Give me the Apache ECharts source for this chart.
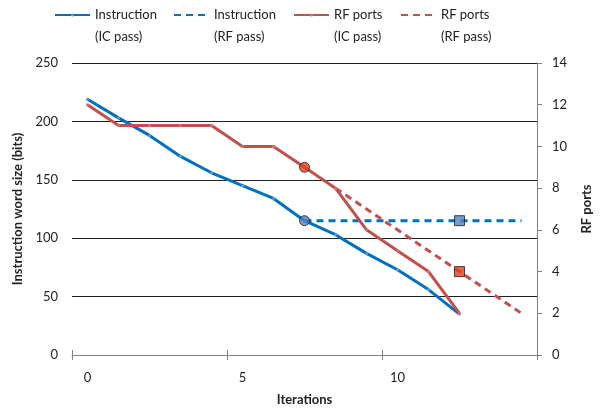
<!DOCTYPE html>
<html>
<head>
<meta charset="utf-8">
<script src="https://cdn.jsdelivr.net/npm/echarts@6/dist/echarts.min.js"></script>
<style>
  html, body { margin: 0; padding: 0; background: #fff; }
  #chart { width: 601px; height: 411px; }
</style>
</head>
<body>
<div id="chart"></div>
<script>
// iterations 0..14
const iterations = ['0','1','2','3','4','5','6','7','8','9','10','11','12','13','14']
// instruction word size (bits), left axis
const instrIC = [219, 203, 188, 170, 156, 145, 134, 115, 103, 87, 73, 56, 35, '-', '-']
const instrRF = ['-', '-', '-', '-', '-', '-', '-', 115, 115, 115, 115, 115, 115, 115, 115]
// RF ports, right axis
const portsIC = [12, 11, 11, 11, 11, 10, 10, 9, 8, 6, 5, 4, 2, '-', '-']
const portsRF = ['-', '-', '-', '-', '-', '-', '-', '-', 8, 7, 6, 5, 4, 3, 2]
// highlighted points (iteration index)
const icPick = 7
const rfPick = 12

const blue = '#0070c0'
const red = '#c0504d'
const font = 'Lato'

const chart = echarts.init(document.getElementById('chart'))

function legendAt(name, left, dashed) {
  return {
    data: [name],
    left: left,
    top: -23,
    itemWidth: 35,
    itemHeight: 4,
    itemGap: 0,
    itemStyle: dashed ? { opacity: 0 } : {},
    textStyle: { fontFamily: font, fontSize: 13, color: '#222', lineHeight: 22 },
    formatter: n => {
      const i = n.indexOf(' (')
      return '\u00a0\n' + n.slice(0, i) + '\n' + n.slice(i + 1)
    }
  }
}

const option = {
  animation: false,
  textStyle: { fontFamily: font },
  legend: [
    legendAt('Instruction (IC pass)', 49, false),
    legendAt('Instruction (RF pass)', 168, true),
    legendAt('RF ports (IC pass)', 288, false),
    legendAt('RF ports (RF pass)', 395, true)
  ],
  grid: { left: 72, right: 60, top: 63, bottom: 56 },
  xAxis: [
    {
      type: 'category',
      data: iterations,
      boundaryGap: true,
      name: 'Iterations',
      nameLocation: 'middle',
      nameGap: 38,
      nameTextStyle: { fontFamily: font, fontSize: 13, fontWeight: 'bold', color: '#222' },
      axisLine: { lineStyle: { color: '#808080', width: 1 } },
      axisTick: { show: true, interval: 4, length: 5, lineStyle: { color: '#808080' } },
      axisLabel: { interval: 4, fontFamily: font, fontSize: 13, color: '#222', margin: 16 },
      splitLine: { show: false }
    },
    {
      type: 'category',
      data: iterations,
      boundaryGap: true,
      position: 'bottom',
      axisLine: { show: false },
      axisTick: { show: true, inside: true, interval: 4, length: 5, lineStyle: { color: '#808080' } },
      axisLabel: { show: false },
      splitLine: { show: false }
    }
  ],
  yAxis: [
    {
      type: 'value',
      min: 0,
      max: 250,
      interval: 50,
      name: 'Instruction word size (bits)',
      nameLocation: 'middle',
      nameGap: 46,
      nameTextStyle: { fontFamily: font, fontSize: 13, fontWeight: 'bold', color: '#222' },
      axisLine: { show: false },
      axisTick: { show: false },
      axisLabel: { fontFamily: font, fontSize: 13, color: '#222', margin: 14 },
      splitLine: { lineStyle: { color: '#222', width: 1 } }
    },
    {
      type: 'value',
      min: 0,
      max: 14,
      interval: 2,
      position: 'right',
      name: 'RF ports',
      nameLocation: 'middle',
      nameGap: 43,
      nameRotate: 90,
      nameTextStyle: { fontFamily: font, fontSize: 13, fontWeight: 'bold', color: '#222' },
      axisLine: { show: true, lineStyle: { color: '#808080', width: 1 } },
      axisTick: { show: true, length: 5, lineStyle: { color: '#808080' } },
      axisLabel: { fontFamily: font, fontSize: 13, color: '#222', margin: 15 },
      splitLine: { show: false }
    }
  ],
  series: [
    {
      name: 'Instruction (IC pass)',
      type: 'line',
      yAxisIndex: 0,
      data: instrIC,
      symbol: 'circle',
      symbolSize: 3,
      itemStyle: { color: '#5b9bd5' },
      lineStyle: { color: blue, width: 3 },
      z: 3
    },
    {
      name: 'Instruction (RF pass)',
      type: 'line',
      yAxisIndex: 0,
      data: instrRF,
      symbol: 'none',
      itemStyle: { color: blue },
      lineStyle: { color: blue, width: 3, type: [7, 5] },
      z: 2
    },
    {
      name: 'RF ports (IC pass)',
      type: 'line',
      yAxisIndex: 1,
      data: portsIC,
      symbol: 'circle',
      symbolSize: 3,
      itemStyle: { color: '#d9706d' },
      lineStyle: { color: red, width: 3 },
      z: 3
    },
    {
      name: 'RF ports (RF pass)',
      type: 'line',
      yAxisIndex: 1,
      data: portsRF,
      symbol: 'none',
      itemStyle: { color: red },
      lineStyle: { color: red, width: 3, type: [7, 5] },
      z: 2
    },
    {
      type: 'scatter',
      yAxisIndex: 0,
      symbol: 'circle',
      symbolSize: 10,
      data: [[icPick, instrIC[icPick]]],
      itemStyle: { color: '#4f81bd', borderColor: '#1f1f1f', borderWidth: 1 },
      z: 5
    },
    {
      type: 'scatter',
      yAxisIndex: 0,
      symbol: 'rect',
      symbolSize: 10,
      data: [[rfPick, instrRF[rfPick]]],
      itemStyle: { color: '#4f81bd', borderColor: '#1f1f1f', borderWidth: 1 },
      z: 5
    },
    {
      type: 'scatter',
      yAxisIndex: 1,
      symbol: 'circle',
      symbolSize: 10,
      data: [[icPick, portsIC[icPick]]],
      itemStyle: { color: '#e0401c', borderColor: '#1f1f1f', borderWidth: 1 },
      z: 5
    },
    {
      type: 'scatter',
      yAxisIndex: 1,
      symbol: 'rect',
      symbolSize: 10,
      data: [[rfPick, portsRF[rfPick]]],
      itemStyle: { color: '#e0401c', borderColor: '#1f1f1f', borderWidth: 1 },
      z: 5
    }
  ]
}

chart.setOption(option)
window.addEventListener('resize', () => chart.resize())
</script>
</body>
</html>
